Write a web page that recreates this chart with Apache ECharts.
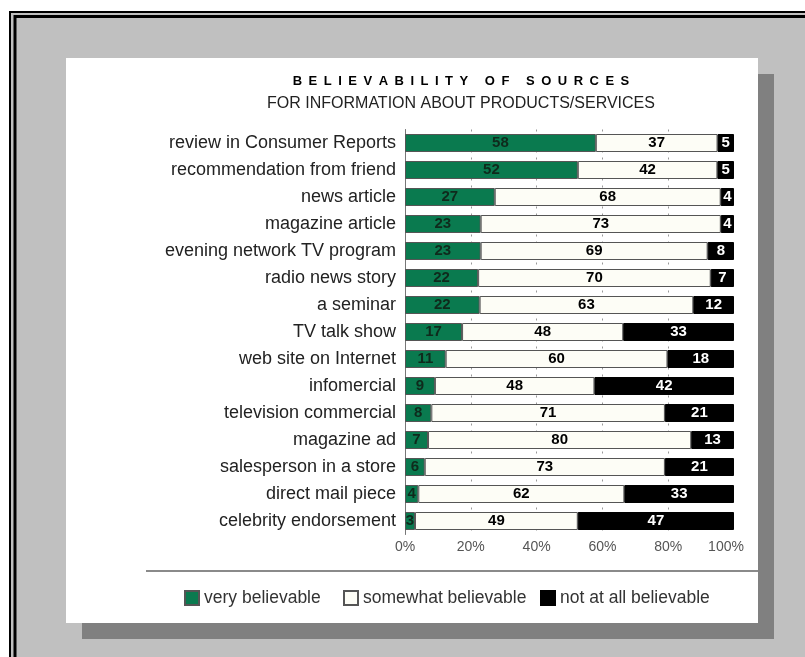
<!DOCTYPE html>
<html><head><meta charset="utf-8">
<script src="https://cdn.jsdelivr.net/npm/echarts@6/dist/echarts.min.js"></script>
<style>html,body{margin:0;padding:0;background:#fff}#c{width:805px;height:657px}</style>
</head><body><div id="c"></div>
<script>
const categories = [
  'review in Consumer Reports',
  'recommendation from friend',
  'news article',
  'magazine article',
  'evening network TV program',
  'radio news story',
  'a seminar',
  'TV talk show',
  'web site on Internet',
  'infomercial',
  'television commercial',
  'magazine ad',
  'salesperson in a store',
  'direct mail piece',
  'celebrity endorsement'
];
const veryBelievable     = [58, 52, 27, 23, 23, 22, 22, 17, 11, 9, 8, 7, 6, 4, 3];
const somewhatBelievable = [37, 42, 68, 73, 69, 70, 63, 48, 60, 48, 71, 80, 73, 62, 49];
const notAtAllBelievable = [5, 5, 4, 4, 8, 7, 12, 33, 18, 42, 21, 13, 21, 33, 47];
const xTickLabels = ['0%', '20%', '40%', '60%', '80%', '100%'];
const seriesNames = ['very believable', 'somewhat believable', 'not at all believable'];
const TITLE = 'BELIEVABILITY OF SOURCES';
const SUBTITLE = 'FOR INFORMATION ABOUT PRODUCTS/SERVICES';

const raw = [veryBelievable, somewhatBelievable, notAtAllBelievable];
const totals = categories.map((c, i) => raw[0][i] + raw[1][i] + raw[2][i]);
const norm = arr => arr.map((v, i) => v / totals[i] * 100);

const FONT = "'Liberation Sans', Arial, Helvetica, sans-serif";
const fills = ['#0a7a4f', '#fdfdf6', '#000000'];
const labelColors = ['#0f2a1c', '#000000', '#ffffff'];
const legendLefts = [184, 343, 540];

const chart = echarts.init(document.getElementById('c'), null, {renderer: 'canvas'});

const series = raw.map((arr, k) => ({
  name: seriesNames[k],
  type: 'bar',
  stack: 'total',
  barWidth: 18,
  data: norm(arr),
  itemStyle: {color: fills[k], borderColor: k === 2 ? '#000' : '#555', borderWidth: 1},
  label: {
    show: true,
    position: 'inside',
    formatter: p => String(raw[k][p.dataIndex]),
    color: labelColors[k],
    fontFamily: FONT,
    fontWeight: 'bold',
    fontSize: 15
  },
  emphasis: {disabled: true},
  animation: false
}));

const option = {
  backgroundColor: '#ffffff',
  animation: false,
  title: [
    {text: TITLE.split('').join('\u2002'), left: 461, top: 75, textAlign: 'center', padding: 0,
     textStyle: {fontFamily: FONT, fontWeight: 'bold', fontSize: 13, color: '#000'}},
    {text: SUBTITLE, left: 461, top: 96, textAlign: 'center', padding: 0,
     textStyle: {fontFamily: FONT, fontWeight: 'normal', fontSize: 16, color: '#222'}}
  ],
  graphic: [
    {type: 'rect', z: -100, shape: {x: 9, y: 11, width: 900, height: 800}, style: {fill: '#c0c0c0', stroke: null}},
    {type: 'rect', z: -99, shape: {x: 10, y: 12, width: 900, height: 800}, style: {fill: null, stroke: '#000', lineWidth: 2}},
    {type: 'rect', z: -99, shape: {x: 15, y: 16.5, width: 900, height: 800}, style: {fill: null, stroke: '#000', lineWidth: 3}},
    {type: 'rect', z: -98, shape: {x: 82, y: 74, width: 692, height: 565}, style: {fill: '#808080'}},
    {type: 'rect', z: -97, shape: {x: 66, y: 58, width: 692, height: 565}, style: {fill: '#ffffff'}},
    {type: 'line', z: -96, shape: {x1: 146, y1: 571, x2: 758, y2: 571}, style: {stroke: '#8a8a8a', lineWidth: 2}}
  ],
  legend: seriesNames.map((n, k) => ({
    data: [n],
    left: legendLefts[k],
    top: 589,
    padding: 0,
    icon: 'rect',
    itemWidth: 14,
    itemHeight: 14,
    selectedMode: false,
    textStyle: {fontFamily: FONT, fontSize: 17.5, color: '#333'}
  })),
  grid: {left: 405, right: 71, top: 129.5, bottom: 122.5, containLabel: false, outerBoundsMode: 'none'},
  xAxis: {
    type: 'value',
    min: 0, max: 100, interval: 20,
    axisLine: {show: false},
    axisTick: {show: false},
    axisLabel: {
      formatter: v => {
        const s = xTickLabels[Math.round(v / 20)];
        return v === 100 ? '{last|' + s + '}' : s;
      },
      rich: {last: {fontFamily: FONT, fontSize: 14, color: '#555', padding: [0, 16, 0, 0]}},
      fontFamily: FONT, fontSize: 14, color: '#555', margin: 6
    },
    splitLine: {show: true, showMinLine: false, showMaxLine: false,
      lineStyle: {color: '#999', width: 1, type: [2, 5]}}
  },
  yAxis: {
    type: 'category',
    data: categories,
    inverse: true,
    axisLine: {show: true, lineStyle: {color: '#777', width: 1}},
    axisTick: {show: false},
    splitLine: {show: false},
    axisLabel: {fontFamily: FONT, fontSize: 18, color: '#222', margin: 9}
  },
  series: series
};
chart.setOption(option);
</script>
</body></html>
